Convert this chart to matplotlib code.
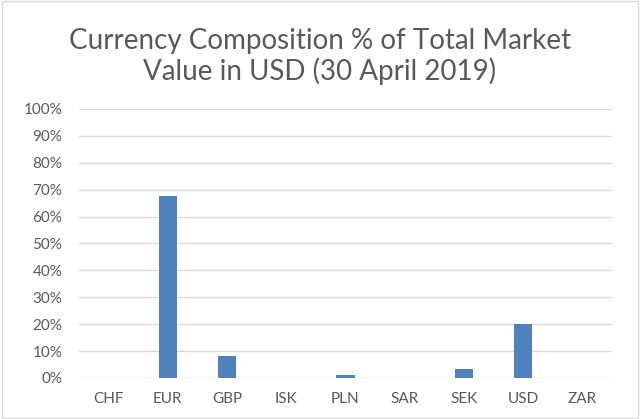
import matplotlib.pyplot as plt
import numpy as np
from matplotlib.patches import Rectangle

# Currency share of total market value (%)
currencies = ['CHF', 'EUR', 'GBP', 'ISK', 'PLN', 'SAR', 'SEK', 'USD', 'ZAR']
shares = [0.05, 67.7, 8.3, 0.05, 1.2, 0.1, 3.3, 20.0, 0.1]
y_ticks = [0, 10, 20, 30, 40, 50, 60, 70, 80, 90, 100]

plt.rcParams['font.family'] = ['Lato', 'DejaVu Sans']

fig = plt.figure(figsize=(6.4, 4.19), dpi=100)
ax = fig.add_axes([0.1234, 0.0979, 0.8326, 0.6421])

x = np.arange(len(currencies))
ax.bar(x, shares, width=0.31, color='#4F81BD', zorder=3)

ax.set_xlim(-0.5, len(currencies) - 0.5)
ax.set_ylim(0, 100)
ax.set_yticks(y_ticks)
ax.set_yticklabels([f'{v}%' for v in y_ticks])
ax.set_xticks(x)
ax.set_xticklabels(currencies)

ax.grid(axis='y', color='#D9D9D9', linewidth=1, zorder=0)
ax.set_axisbelow(True)
for s in ax.spines.values():
    s.set_visible(False)
ax.tick_params(length=0, colors='#595959', labelsize=11)
ax.tick_params(axis='x', pad=10)
ax.tick_params(axis='y', pad=12)

fig.text(0.5, 0.866, 'Currency Composition % of Total Market\nValue in USD (30 April 2019)',
         ha='center', va='center', fontsize=20, color='#595959', linespacing=1.15)

# light frame around the chart area
fig.patches.append(Rectangle((0.003, 0.003), 0.994, 0.994, transform=fig.transFigure,
                             fill=False, edgecolor='#D9D9D9', linewidth=1))

fig.savefig('out.png', dpi=100)
